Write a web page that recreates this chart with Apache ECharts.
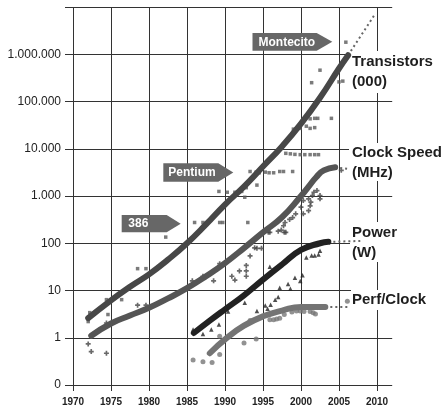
<!DOCTYPE html>
<html><head><meta charset="utf-8">
<script src="https://cdn.jsdelivr.net/npm/echarts@6/dist/echarts.min.js"></script>
<style>html,body{margin:0;padding:0;background:#fff}#c{width:445px;height:411px}</style>
</head><body><div id="c"></div>
<script>
// ---- data (year, value) ----
const transistorTrend = [[1972,2.6],[1975,6.2],[1977.5,12],[1980,22],[1982.5,45],[1985,100],[1987.5,250],[1990,660],[1992.5,1580],[1995,4200],[1997.5,11200],[2000,34000],[2002.5,120000],[2005,500000],[2006.2,955000]];
const transistorDotted = [[2006.2,955000],[2009.7,6900000]];
const transistorPoints = [[1972.2,3.4],[1972.0,2.2],[1974.4,6.4],[1974.6,3.1],[1976.4,6.4],[1978.5,29],[1979.6,29],[1982.2,135],
  [1986.0,275],[1987.1,275],[1989.3,275],[1989.7,275],[1993.0,275],
  [1989.2,1250],[1990.3,1200],[1991.3,1200],[1992.2,1250],[1992.8,1500],[1990.8,890],[1992.6,940],[1994.2,1700],
  [1993.3,3300],[1994.1,3200],[1994.5,3100],[1995.3,3200],[1995.8,3100],[1996.4,3100],[1997.2,3300],[1997.7,3300],[1998.9,3300],
  [1998.0,8000],[1998.6,7800],[1999.2,7600],[1999.9,7500],[2000.5,7500],[2001.2,7500],[2001.8,7500],[2002.3,7500],
  [2000.7,30000],[1999.9,27000],[1999.0,26000],[1999.5,26000],[2001.2,27000],[2001.8,28000],
  [2001.2,43000],[2001.8,44000],[2002.2,44000],[2004.0,44000],
  [2002.5,460000],[2001.4,250000],[2005.0,260000],[2005.5,270000],[2005.9,1800000]];

const clockTrend = [[1972.4,1.1],[1975,2.0],[1977.5,2.95],[1980,4.3],[1982.5,6.8],[1985,11.2],[1987.5,20],[1990,38],[1992.5,79],[1995,170],[1997.5,355],[2000,1000],[2001,1585],[2002,2500],[2003,3470],[2004.5,4070]];
const clockDotted = [[2004.5,4070],[2006.4,3700]];
const clockPoints = [[1972.0,0.74],[1972.4,0.51],[1974.4,0.47],[1974.4,2.05],[1978.5,4.9],[1979.6,4.9],
  [1985.7,16],[1987.1,20],[1988.5,16],[1989.3,37],[1990.9,20],[1991.3,16.6],[1991.9,26],[1992.8,34],[1992.8,26],[1992.8,20],
  [1993.3,54],[1994.2,78],[1994.8,78],[1993.9,80],[1995.7,170],[1995.9,170],[1997.0,180],[1997.4,190],[1997.8,170],[1998.0,170],
  [1997.7,235],[1997.9,275],[1998.5,320],[1998.9,350],[1999.3,420],[2000.0,580],[2000.3,420],[2001.0,490],[2001.2,620],
  [2000.3,800],[2001.0,870],[2001.3,740],[2001.5,1020],[2001.7,1200],[2002.1,1300],[2002.5,1020],[2002.5,870],[2005.3,3500]];

const powerTrend = [[1985.9,1.26],[1988,2.3],[1990,4.0],[1992.5,7.9],[1995,17],[1997.5,35.5],[2000,72],[2002.5,100],[2003.6,107]];
const powerDotted = [[2003.6,107],[2007.8,112]];
const powerPoints = [[1985.8,1.5],[1987.1,1.2],[1988.2,1.5],[1989.2,1.9],[1990.4,3.6],[1992.6,5.5],[1994.2,3.7],[1995.3,4.8],
  [1995.6,4.1],[1996.0,5.0],[1996.6,6.4],[1997.0,7.3],[1997.2,11.4],[1998.3,13.8],[1998.6,10.9],[1999.2,18.6],[1999.9,15.8],
  [2000.2,20.9],[1995.9,32],[2000.7,50],[2001.4,55],[2001.8,55],[2002.3,58],[2002.5,69]];

const perfTrend = [[1988,0.47],[1990.2,0.98],[1992.5,1.8],[1995,2.84],[1997.5,3.75],[2000,4.5],[2003.2,4.5]];
const perfDotted = [[2003.2,4.5],[2006.4,4.5]];
const perfPoints = [[1985.8,0.34],[1987.1,0.31],[1988.3,0.30],[1989.3,0.44],[1989.3,1.07],[1992.5,0.77],[1994.1,0.94],[1993.3,2.33],
  [1995.9,2.4],[1996.4,2.4],[1996.8,2.5],[1997.2,2.6],[1997.8,3.1],[1998.8,3.5],[1999.4,3.7],[1999.9,3.7],[2000.4,3.6],
  [2001.2,3.6],[2001.6,3.4],[2001.9,3.2],[2006.1,5.9]];

const seriesLabels = [['Transistors','(000)'],['Clock Speed','(MHz)'],['Power','(W)'],['Perf/Clock']];
const calloutTexts = ['Montecito','Pentium','386'];

const FONT = "'Liberation Sans', Arial, Helvetica, sans-serif";

function trend(data, color) {
  return {type:'line', data, smooth:0.5, showSymbol:false, z:3, silent:true,
    lineStyle:{color, width:6, cap:'round', join:'round'}};
}
function dotted(data) {
  return {type:'line', data, showSymbol:false, z:3, silent:true,
    lineStyle:{color:'#666', width:2, type:[2,3]}};
}
function pts(data, symbol, size, color) {
  return {type:'scatter', data, symbol, symbolSize:size, z:2, silent:true, itemStyle:{color}};
}
const plus = 'path://M1,0H2V1H3V2H2V3H1V2H0V1H1Z';

function fmtY(v) {
  if (v < 0.5) return '0';
  if (v > 5e6) return '';
  return String(Math.round(v)).replace(/\B(?=(\d{3})+(?!\d))/g, '.');
}

// annotation graphics
const graphics = [];
const labelBoxes = [[348,51,97,42],[349,143,96,38],[350,222,95,40],[351,290,94,20]];
const labelY = [[62,82],[152.5,172.5],[232.5,252.5],[299.5]];
seriesLabels.forEach((lines, i) => {
  const b = labelBoxes[i];
  graphics.push({type:'rect', shape:{x:b[0],y:b[1],width:b[2],height:b[3]}, style:{fill:'#fff'}, z:1, silent:true});
  lines.forEach((t, j) => {
    graphics.push({type:'text', x:352, y:labelY[i][j], z:10, silent:true,
      style:{text:t, fill:'#1e1e1e', font:'bold 15px ' + FONT, textVerticalAlign:'middle', verticalAlign:'middle'}});
  });
});
const calloutBoxes = [[252.5,33,316.7,50.7,332.3,258.5],[163.3,163.3,218.3,181.7,233.3,168.3],[121.7,215,166.7,232.3,180.7,128.3]];
calloutTexts.forEach((t, i) => {
  const [x0,y0,x1,y1,tip,tx] = calloutBoxes[i];
  graphics.push({type:'polygon', z:10, silent:true,
    shape:{points:[[x0,y0],[x1,y0],[tip,(y0+y1)/2],[x1,y1],[x0,y1]]}, style:{fill:'#676767'}});
  graphics.push({type:'text', x:tx, y:(y0+y1)/2+0.5, z:11, silent:true,
    style:{text:t, fill:'#fff', font:'bold 12px ' + FONT, textVerticalAlign:'middle', verticalAlign:'middle'}});
});

const chart = echarts.init(document.getElementById('c'), null, {renderer:'canvas'});
chart.setOption({
  animation:false,
  backgroundColor:'#fff',
  grid:[
    {left:73, right:52.8, top:7, bottom:26},
    {left:73, right:68, top:7, bottom:26}
  ],
  xAxis:[
    {gridIndex:0, type:'value', min:1970, max:2012, show:false},
    {gridIndex:1, type:'value', min:1970, max:2010, interval:5, position:'bottom',
      axisLine:{show:false},
      axisTick:{show:true, length:6, inside:false, lineStyle:{color:'#333', width:1}},
      splitLine:{show:true, lineStyle:{color:'#333', width:1}},
      axisLabel:{color:'#222', fontSize:10, fontWeight:'bold', fontFamily:FONT, margin:12, formatter:(v)=>String(v)}}
  ],
  yAxis:[
    {gridIndex:0, type:'log', logBase:10, min:0.1, max:1e7, splitNumber:8,
      axisLine:{show:false},
      axisTick:{show:true, length:8, lineStyle:{color:'#333', width:1}},
      splitLine:{show:true, lineStyle:{color:'#333', width:1}},
      axisLabel:{color:'#222', fontSize:12, fontFamily:FONT, margin:12, formatter:fmtY}},
    {gridIndex:1, type:'value', min:0, max:1, show:false}
  ],
  series:[
    pts(transistorPoints,'rect',3.5,'#5a5a5a'),
    pts(clockPoints,plus,5,'#444'),
    pts(powerPoints,'triangle',4.5,'#222'),
    pts(perfPoints,'circle',5,'#777'),
    dotted(transistorDotted), dotted(clockDotted), dotted(powerDotted), dotted(perfDotted),
    trend(transistorTrend,'#474747'),
    trend(clockTrend,'#555'),
    trend(powerTrend,'#222'),
    trend(perfTrend,'#747474')
  ],
  graphic:{elements:graphics}
});
</script></body></html>
